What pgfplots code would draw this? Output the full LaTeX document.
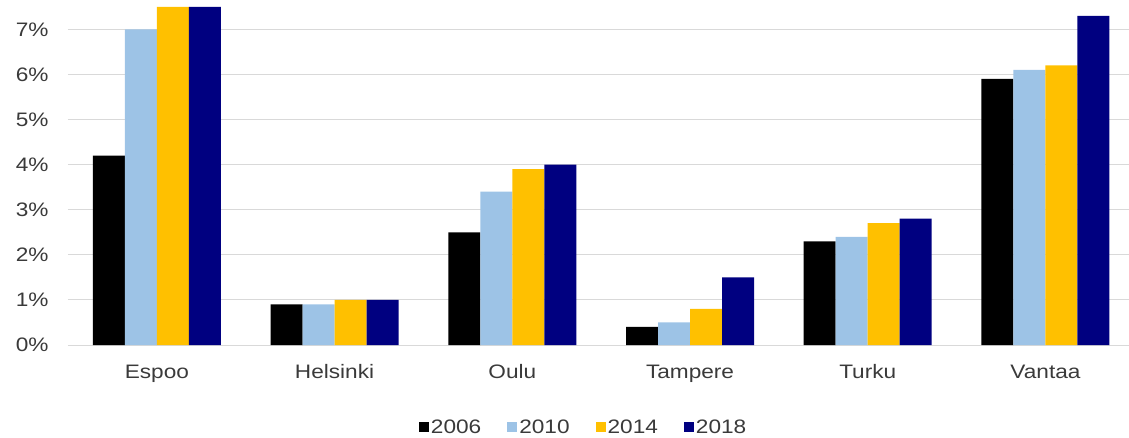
\documentclass[border=0pt]{standalone}
\usepackage{fontspec}
\setmainfont{Liberation Sans}[FakeStretch=1.16]
\usepackage{pgfplots}
\pgfplotsset{compat=1.18}
\definecolor{c06}{HTML}{000000}
\definecolor{c10}{HTML}{9DC3E6}
\definecolor{c14}{HTML}{FFC000}
\definecolor{c18}{HTML}{000080}
\definecolor{gridc}{HTML}{D9D9D9}
\definecolor{txt}{HTML}{3A3A3A}
\begin{document}
\begin{tikzpicture}
\begin{axis}[
  at={(0pt,0pt)}, anchor=south west,
  scale only axis,
  width=1061pt, height=345pt,
  xmin=-0.5, xmax=5.47,
  ymin=0, ymax=7.65,
  ybar=0pt, bar width=32pt,
  xtick={0,1,2,3,4,5},
  xticklabels={Espoo,Helsinki,Oulu,Tampere,Turku,Vantaa},
  ytick={0,1,2,3,4,5,6,7},
  yticklabels={0\%,1\%,2\%,3\%,4\%,5\%,6\%,7\%},
  ymajorgrids,
  grid style={gridc, line width=1pt},
  axis line style={draw=none},
  tick style={draw=none},
  every tick label/.append style={font=\fontsize{19.5}{22}\selectfont, text=txt},
  yticklabel style={xshift=-16pt},
  xticklabel style={yshift=-12pt},
  legend style={at={(0.486,-0.238)}, anchor=center, draw=none, fill=none,
    legend columns=4, font=\fontsize{19.5}{22}\selectfont, text=txt,
    /tikz/every even column/.append style={column sep=24pt},
    inner sep=0pt},
  legend image code/.code={\fill[#1, draw=none] (0pt,-5pt) rectangle (10pt,5pt);},
  clip=false,
]
\addplot[fill=c06, draw=none] coordinates {(0,4.2) (1,0.9) (2,2.5) (3,0.4) (4,2.3) (5,5.9)};
\addplot[fill=c10, draw=none] coordinates {(0,7.0) (1,0.9) (2,3.4) (3,0.5) (4,2.4) (5,6.1)};
\addplot[fill=c14, draw=none] coordinates {(0,7.5) (1,1.0) (2,3.9) (3,0.8) (4,2.7) (5,6.2)};
\addplot[fill=c18, draw=none] coordinates {(0,7.5) (1,1.0) (2,4.0) (3,1.5) (4,2.8) (5,7.3)};
\legend{2006,2010,2014,2018}
\end{axis}
\pgfresetboundingbox
\path[use as bounding box] (-68pt,-92pt) rectangle (1061pt,345pt);
\end{tikzpicture}
\end{document}
